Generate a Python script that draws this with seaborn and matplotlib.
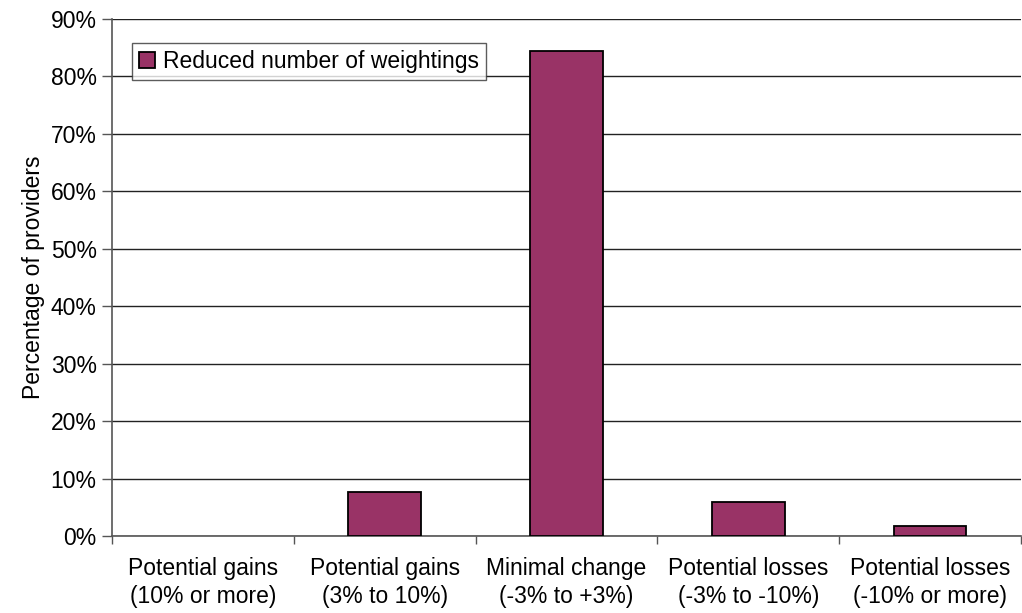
import matplotlib
matplotlib.use("Agg")
import matplotlib.pyplot as plt
import seaborn as sns
import pandas as pd
from matplotlib.patches import Patch
from matplotlib.ticker import FixedLocator, PercentFormatter

categories = [
    "Potential gains\n(10% or more)",
    "Potential gains\n(3% to 10%)",
    "Minimal change\n(-3% to +3%)",
    "Potential losses\n(-3% to -10%)",
    "Potential losses\n(-10% or more)",
]
share = [0.0, 7.6, 84.5, 6.0, 1.7]
series_name = "Reduced number of weightings"
bar_color = "#993366"

sns.set_style("white")
plt.rcParams["font.family"] = ["Liberation Sans", "DejaVu Sans"]
plt.rcParams["text.color"] = "black"
plt.rcParams["axes.labelcolor"] = "black"

df = pd.DataFrame({"category": categories, "share": share})

fig = plt.figure(figsize=(10.22, 6.13), dpi=100)
ax = fig.add_axes([0.1096, 0.1256, 0.8894, 0.8434])

sns.barplot(data=df, x="category", y="share", color=bar_color,
            saturation=1, width=0.4, edgecolor="black", linewidth=1.3,
            ax=ax, zorder=3)

# an empty bar leaves no outline on the axis
for patch in ax.patches:
    if patch.get_height() == 0:
        patch.set_visible(False)

ax.set_xlim(-0.5, len(categories) - 0.5)
ax.set_ylim(0, 90)
ax.yaxis.set_major_locator(FixedLocator(range(0, 91, 10)))
ax.yaxis.set_major_formatter(PercentFormatter(decimals=0))
ax.yaxis.grid(True, color="#222222", linewidth=1.0, zorder=0)
ax.set_axisbelow(True)

# category boundary ticks on x axis
ax.set_xticks([i + 0.5 for i in range(-1, len(categories))], minor=True)
ax.tick_params(axis="x", which="major", length=0, labelsize=16.5, pad=15,
               labelcolor="black")
ax.tick_params(axis="x", which="minor", length=6, width=1, color="#555555",
               direction="out", bottom=True)
ax.tick_params(axis="y", which="major", length=7, width=1, color="#555555",
               direction="out", left=True, labelsize=16.5, pad=4,
               labelcolor="black")
for lbl in ax.get_xticklabels():
    lbl.set_linespacing(1.3)

for side in ("top", "right"):
    ax.spines[side].set_visible(False)
for side in ("left", "bottom"):
    ax.spines[side].set_color("#555555")
    ax.spines[side].set_linewidth(1.2)

ax.set_xlabel("")
ax.set_ylabel("Percentage of providers", fontsize=16.5, labelpad=4,
              color="black")

handle = Patch(facecolor=bar_color, edgecolor="black", linewidth=1.3)
leg = ax.legend([handle], [series_name], loc="upper left",
                bbox_to_anchor=(0.022, 0.953), fontsize=16.5,
                frameon=True, fancybox=False, edgecolor="#333333",
                handlelength=0.7, handleheight=0.7, handletextpad=0.35,
                borderpad=0.3, borderaxespad=0)
leg.get_frame().set_linewidth(1.0)

fig.savefig("out.png", dpi=100)
